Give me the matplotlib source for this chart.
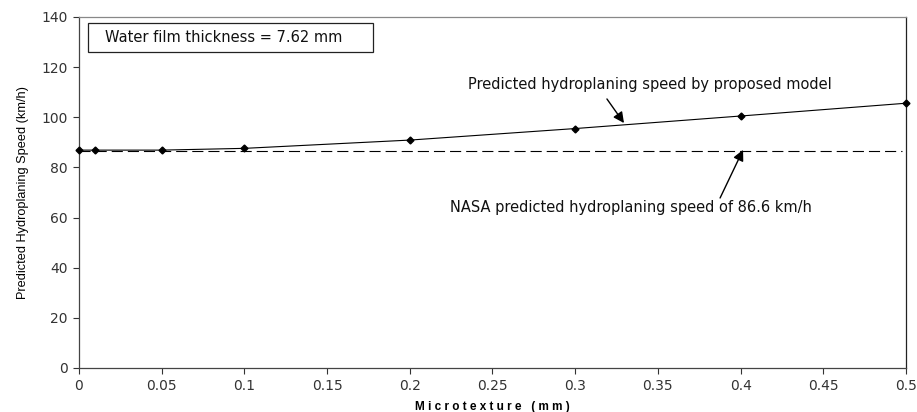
import matplotlib.pyplot as plt
from matplotlib.patches import Rectangle

plt.rcParams['font.family'] = ['DejaVu Sans']

# Microtexture (mm) and predicted hydroplaning speed (km/h)
microtexture = [0, 0.01, 0.05, 0.1, 0.2, 0.3, 0.4, 0.5]
speed_model = [86.9, 86.9, 86.9, 87.6, 90.9, 95.5, 100.5, 105.6]
nasa_x = [0, 0.4975]
nasa_speed = [86.6, 86.6]

y_ticks = [0, 20, 40, 60, 80, 100, 120, 140]
x_ticks = [0, 0.05, 0.1, 0.15, 0.2, 0.25, 0.3, 0.35, 0.4, 0.45, 0.5]
x_labels = ['0', '0.05', '0.1', '0.15', '0.2', '0.25', '0.3', '0.35', '0.4', '0.45', '0.5']

fig = plt.figure(figsize=(9.17, 4.12), dpi=100)
ax = fig.add_axes([0.0861, 0.1068, 0.9019, 0.852])

ax.plot(microtexture, speed_model, color='black', linewidth=0.8,
        marker='D', markersize=3.5, clip_on=False, zorder=3)
ax.plot(nasa_x, nasa_speed, color='black', linewidth=0.8,
        dashes=(10, 4.5), zorder=2)

ax.set_xlim(0, 0.5)
ax.set_ylim(0, 140)
ax.set_xticks(x_ticks)
ax.set_xticklabels(x_labels)
ax.set_yticks(y_ticks)
ax.tick_params(labelsize=10, colors='#333333', length=4, width=0.8, pad=4)

for side in ['left', 'bottom']:
    ax.spines[side].set_color('#444444')
ax.spines['top'].set_color('#888888')
ax.spines['right'].set_color('#222222')
for s in ax.spines.values():
    s.set_linewidth(0.9)

ax.set_xlabel('M i c r o t e x t u r e   ( m m )', fontsize=8.5, fontweight='bold',
              family=['Liberation Sans', 'DejaVu Sans'], labelpad=6)
ax.set_ylabel('Predicted Hydroplaning Speed (km/h)', fontsize=9.2,
              family=['Liberation Sans Narrow', 'Liberation Sans', 'DejaVu Sans'],
              labelpad=9)

# text box in the top-left corner
ax.add_patch(Rectangle((0.0054, 126.0), 0.1724, 11.6, facecolor='white',
                       edgecolor='#222222', linewidth=0.9, zorder=4))
ax.text(0.0157, 131.8, 'Water film thickness = 7.62 mm', fontsize=10.5,
        va='center', ha='left', color='#111111', zorder=5)

ax.text(0.2352, 112.9, 'Predicted hydroplaning speed by proposed model',
        fontsize=10.5, ha='left', va='center', color='#111111')
ax.annotate('', xy=(0.3295, 97.7), xytext=(0.3192, 107.3),
            arrowprops=dict(arrowstyle='-|>', color='black', lw=1.0,
                            mutation_scale=16, shrinkA=0, shrinkB=0))

ax.text(0.2243, 64.2, 'NASA predicted hydroplaning speed of 86.6 km/h',
        fontsize=10.5, ha='left', va='center', color='#111111')
ax.annotate('', xy=(0.4015, 87.0), xytext=(0.3876, 67.8),
            arrowprops=dict(arrowstyle='-|>', color='black', lw=1.0,
                            mutation_scale=16, shrinkA=0, shrinkB=0))

fig.savefig('out.png', dpi=100)
